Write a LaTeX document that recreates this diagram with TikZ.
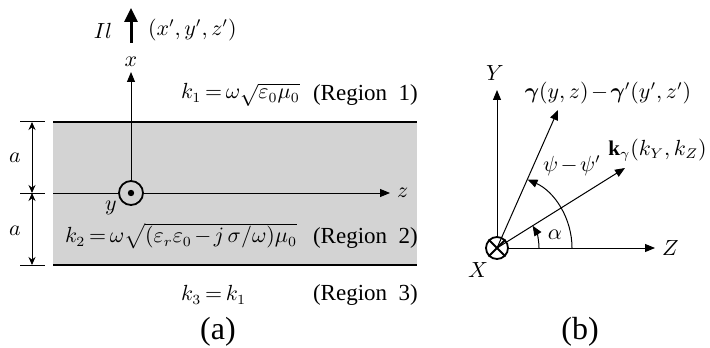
\documentclass[tikz,border=0pt]{standalone}
\usepackage{amsmath, amssymb}
\usepackage{fontspec}
\setmainfont{Liberation Serif}
\usetikzlibrary{arrows.meta, positioning, calc}
\definecolor{slabgray}{RGB}{211, 211, 211}

\tikzset{
  axis/.style={->, line width=0.5pt},
  edge/.style={line width=0.8pt},
  dimline/.style={line width=0.5pt, >={Stealth[length=4pt, width=3.5pt]}},
  region/.style={anchor=west, font=\fontsize{11.5}{13}\selectfont},
  caption/.style={font=\fontsize{16}{18}\selectfont}
}

\begin{document}
\begin{tikzpicture}[x=0.5pt, y=-0.5pt, font=\fontsize{10.5}{12}\selectfont,
    >={Triangle[length=5pt, width=4pt]}]
  \medmuskip=2mu \thickmuskip=3mu
  \useasboundingbox (0,0) rectangle (710,347);

  % (a) slab, region 2
  \fill[slabgray] (53,122) rectangle (417,265);
  \draw[edge] (53,122) -- (417,122);
  \draw[edge] (53,265) -- (417,265);

  % origin and axes
  \node[circle, draw, line width=0.9pt, minimum size=12pt, inner sep=0pt] (yorig) at (131,193) {};
  \fill (yorig.center) circle (1.6pt);
  \node (ylbl) at (111,208) {$y$};
  \coordinate (xtip) at (131,72);
  \draw[axis] (yorig) -- (xtip);
  \node (xlbl) at (131,62) {$x$};
  \coordinate (zleft) at (53,193);
  \coordinate (ztip) at (390,193);
  \draw[line width=0.5pt] (zleft) -- (yorig);
  \draw[axis] (yorig) -- (ztip);
  \node[right=0pt of ztip] (zlbl) {$z$};

  % source
  \coordinate (srcbase) at (131,43);
  \coordinate (srctip) at (131,8);
  \draw[->, line width=1.5pt, >={Triangle[length=7pt, width=6.5pt]}] (srcbase) -- (srctip);
  \node (srclbl) at (103,31) {$Il$};
  \node[anchor=west] (srcpos) at (141,30) {$(x',y',z')$};

  % dimensions
  \foreach \yy/\nm in {122/dtop, 193/dmid, 265/dbot}{
    \coordinate (\nm) at (32,\yy);
    \draw[line width=0.5pt] (20,\yy) -- (45,\yy);
  }
  \draw[dimline, <->] (dtop) -- (dmid);
  \draw[dimline, <->] (dmid) -- (dbot);
  \node (aup) at (15,158) {$a$};
  \node (adn) at (15,231) {$a$};

  % wave numbers
  \node[anchor=west] (kone) at (174,95) {$k_1=\omega\sqrt{\varepsilon_0\mu_0}$};
  \node[region] (regone) at (306,95) {(Region\ \ 1)};
  \node[anchor=west] (ktwo) at (58,236) {$k_2=\omega\sqrt{(\varepsilon_r\varepsilon_0-j\,\sigma/\omega)\mu_0}$};
  \node[region] (regtwo) at (306,238) {(Region\ \ 2)};
  \node[anchor=west] (kthree) at (174,295) {$k_3=k_1$};
  \node[region] (regthree) at (306,295) {(Region\ \ 3)};
  \node[caption] (capa) at (218,332) {(a)};

  % (b) angles
  \node[circle, draw, line width=0.9pt, minimum size=11pt, inner sep=0pt] (Xorig) at (497,248) {};
  \draw[line width=0.9pt] (Xorig.north east) -- (Xorig.south west)
                          (Xorig.north west) -- (Xorig.south east);
  \node (Xlbl) at (478,270) {$X$};
  \coordinate (Ytip) at (497,90);
  \coordinate (Ztip) at (655,248);
  \draw[axis] (Xorig) -- (Ytip);
  \draw[axis] (Xorig) -- (Ztip);
  \node (Ylbl) at (495,73) {$Y$};
  \node[right=0pt of Ztip] (Zlbl) {$Z$};
  \coordinate (rtip) at (558,110);
  \coordinate (ktip) at (625,168);
  \draw[axis] (Xorig.center) -- (rtip);
  \draw[axis] (Xorig.center) -- (ktip);
  \node (rlbl) at (608,93) {$\boldsymbol{\gamma}(y,z)-\boldsymbol{\gamma}'(y',z')$};
  \node[anchor=west, inner sep=0pt] (klbl) at (608,150) {$\mathbf{k}_\gamma(k_Y,k_Z)$};
  \draw[axis] ($(Xorig.center)+(42,0)$) arc[start angle=0, end angle=-32, radius=42];
  \draw[axis] ($(Xorig.center)+(75,0)$) arc[start angle=0, end angle=-66, radius=75];
  \node (alpha) at (555,235) {$\alpha$};
  \node (psi) at (572,166) {$\psi-\psi'$};
  \node[caption] (capb) at (580,332) {(b)};
\end{tikzpicture}
\end{document}
